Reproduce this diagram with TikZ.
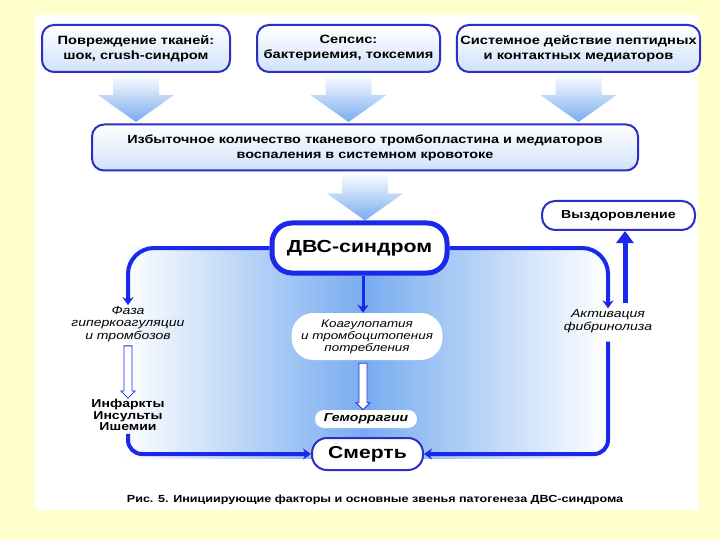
\documentclass[tikz,border=0pt]{standalone}
\usepackage{fontspec}
\setmainfont[FakeStretch=1.22]{Liberation Sans}
\usetikzlibrary{arrows.meta, calc}
\definecolor{paper}{RGB}{255,255,204}
\definecolor{lineblue}{RGB}{25,40,235}
\definecolor{edgeblue}{RGB}{45,45,200}
\definecolor{skyblue}{RGB}{120,172,240}
\tikzset{
    srcbox/.style={draw=edgeblue, line width=2pt, rounded corners=12pt, top color=white, bottom color=skyblue!35, minimum height=47pt, align=center, font=\bfseries\fontsize{12}{15}\selectfont},
    endbox/.style={draw=edgeblue, line width=2pt, fill=white, rounded corners=13pt, align=center},
    bigarrow/.style={top color=white, bottom color=skyblue},
    flow/.style={-{Stealth[length=8pt, width=11pt]}, lineblue, line width=4pt, rounded corners=26pt},
    hollow/.style={draw=lineblue, fill=white, line width=0.8pt},
    phase/.style={align=center, inner sep=1pt, font=\itshape\fontsize{11.5}{12.5}\selectfont},
    blob/.style={fill=white, rounded corners=10pt, align=center, inner sep=1pt, font=\itshape\fontsize{11}{12}\selectfont}
}
\begin{document}
\begin{tikzpicture}[x=1pt, y=-1pt]
    \fill[paper] (0,0) rectangle (720,540);
    \fill[white] (35,15) rectangle (698,510);
    % голубой фон петли
    \shade[left color=white, right color=white, middle color=skyblue] (122,246) rectangle (607,458);

    % исходные факторы
    \node[srcbox, minimum width=188pt] (tissue) at (136,48.5) {Повреждение тканей:\\шок, crush-синдром};
    \node[srcbox, minimum width=183pt] (sepsis) at (348.5,48.5) {Сепсис:\\бактериемия, токсемия};
    \node[srcbox, minimum width=237pt] (mediators) at (578.5,48.5) {Системное действие пептидных\\и контактных медиаторов};
    \node[srcbox, minimum width=546pt, minimum height=46pt, font=\bfseries\fontsize{11.8}{15}\selectfont] (excess) at (365,147.5) {Избыточное количество тканевого тромбопластина и медиаторов\\воспаления в системном кровотоке};
    \foreach \b in {tissue, sepsis, mediators, excess}
        \shade[bigarrow] ($(\b.south)+(-23,1)$) -- ++(0,21) -- ++(-15,0) -- ++(38,27) -- ++(38,-27) -- ++(-15,0) -- ++(0,-21) -- cycle;

    % ДВС и исходы
    \node[endbox, draw=lineblue, line width=5pt, rounded corners=20pt, minimum width=175pt, minimum height=50pt, font=\bfseries\fontsize{17.5}{21}\selectfont] (dvs) at (359.5,248) {ДВС-синдром};
    \node[endbox, minimum width=153pt, minimum height=29pt, font=\bfseries\fontsize{11.6}{13}\selectfont] (recovery) at (618.5,215.5) {Выздоровление};
    \node[endbox, minimum width=111pt, minimum height=32pt, rounded corners=15pt, font=\bfseries\fontsize{17.3}{20}\selectfont] (death) at (367.5,454) {Смерть};

    \coordinate (stem) at (363,0);
    \node[phase] (hyper) at (128,324) {Фаза\\гиперкоагуляции\\и тромбозов};
    \node[align=center, inner sep=1pt, font=\bfseries\fontsize{11.5}{11.5}\selectfont] (infarct) at (128,415) {Инфаркты\\Инсульты\\Ишемии};
    \node[blob, minimum width=151pt, minimum height=47pt, rounded corners=22pt] (coag) at (367,336.5) {Коагулопатия\\и тромбоцитопения\\потребления};
    \node[blob, minimum width=102pt, minimum height=18pt, rounded corners=9pt, font=\bfseries\itshape\fontsize{11.5}{12}\selectfont] (hemo) at (366,419) {Геморрагии};
    \node[phase] (fibrin) at (608,321) {Активация\\фибринолиза};

    % петля
    \draw[flow] (dvs.west) -| (hyper.north);
    \draw[flow] (dvs.east) -| (fibrin.north);
    \draw[flow, line width=3pt] (dvs.south -| stem) -- (coag.north -| stem);
    \draw[flow, rounded corners=14pt] ([yshift=-2pt]infarct.south) |- (death.west);
    \draw[flow, rounded corners=14pt] ([yshift=-8pt]fibrin.south) |- (death.east);
    \coordinate (lift) at (625,303);
    \draw[-{Triangle[length=12pt, width=17pt]}, lineblue, line width=5pt] (lift) -- (lift |- recovery.south);
    \foreach \a/\b in {hyper.south/infarct.north, coag.south -| stem/hemo.north -| stem}
        \draw[hollow] ($(\a)+(-4,3)$) -- ($(\b)+(-4,-7)$) -- ($(\b)+(-7,-7)$) -- (\b) -- ($(\b)+(7,-7)$) -- ($(\b)+(4,-7)$) -- ($(\a)+(4,3)$) -- cycle;

    \node[font=\bfseries\fontsize{10.3}{12}\selectfont] (caption) at (375,500) {Рис. 5. Инициирующие факторы и основные звенья патогенеза ДВС-синдрома};
\end{tikzpicture}
\end{document}
